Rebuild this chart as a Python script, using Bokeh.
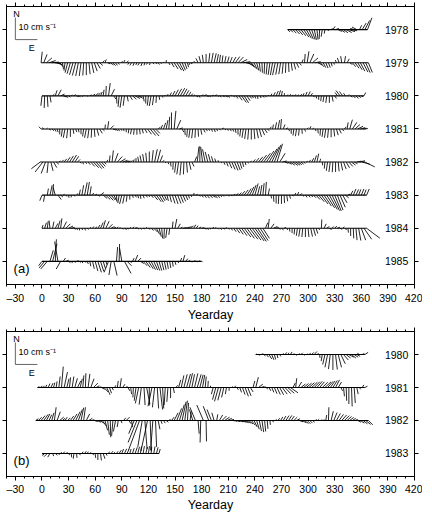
from bokeh.plotting import figure
from bokeh.models import Range1d, LinearAxis, FixedTicker, SingleIntervalTicker, ColumnDataSource
from bokeh.layouts import column
from bokeh.embed import file_html
from bokeh.resources import INLINE
from bokeh.core.properties import value

# ---------------- data (u = east, v = north, cm/s), one stick every 3 days ----------------
STEP_DAYS = 3

years_a = [1978, 1979, 1980, 1981, 1982, 1983, 1984, 1985]
years_b = [1980, 1981, 1982, 1983]

start_a1978 = 277
u_a1978 = [1.0,1.2,1.5,1.8,2.0,2.2,2.4,2.3,2.0,1.6, 1.0,0.5,-0.2,-0.5,-0.3,0.5,1.2,1.0,1.5,1.6,
           1.8,2.0,2.5,2.8,2.5,-1.8,-2.2,1.0,1.8,2.2, 2.0]
v_a1978 = [-1.0,-1.2,-1.6,-2.0,-2.4,-2.8,-3.4,-3.9,-4.3,-4.5, -4.6,-4.5,-4.2,-3.2,-1.8,-0.6,0.4,1.5,0.6,-0.8,
           -1.2,-1.4,-1.3,-0.9,-0.5,0.6,1.2,2.0,3.0,4.2, 5.4]

start_a1979 = -1
u_a1979 = [0.5,1.5,2.5,3.0,3.2,3.0,2.5,1.5,0.5,-0.5,
           -1.2,-1.5,-1.6,-1.5,-1.2,-0.8,-0.4,0.0,0.5,1.0,
           1.3,1.5,1.4,1.0,0.6,1.2,1.5,1.2,0.8,0.5,
           0.8,0.6,1.0,-0.5,-0.8,-0.6,-0.5,-0.8,-0.6,-0.4,
           -0.5,-0.3,0.5,0.8,0.6,0.3,0.2,0.1,0.5,1.2,
           1.8,2.2,2.0,1.5,1.0,0.5,-0.5,-0.8,-0.8,-1.0,
           -0.8,-0.5,0.0,0.5,0.8,1.0,0.8,0.5,0.4,0.6,
           0.8,1.0,1.5,2.0,2.5,3.0,3.2,3.0,2.5,2.0,
           1.5,1.0,0.5,0.2,-0.2,-0.5,-0.8,-1.0,-1.2,-1.0,
           -0.8,-0.5,-0.2,0.2,0.5,0.8,1.0,1.0,0.6,0.3,
           0.8,1.8,2.5,2.5,2.0,1.5,1.2,1.0,0.8,0.5,
           0.3,-0.5,-0.8,-0.5,0.5,1.0,1.2,1.5,1.8,2.0,
           2.0,2.2,2.0,1.8]
v_a1979 = [5.0,3.8,2.2,1.0,0.3,-0.4,-1.0,-1.8,-2.8,-3.6,
           -4.5,-5.0,-5.5,-5.8,-6.0,-6.0,-5.8,-5.6,-5.2,-4.6,
           -3.8,-2.6,-1.2,1.0,1.5,-0.5,-1.0,-1.3,-1.2,-0.8,
           0.6,1.2,0.8,-0.8,-1.2,-1.4,-1.0,-1.2,-1.5,-1.2,
           -0.8,-1.0,-0.6,-0.4,-0.8,-0.5,0.4,1.2,-1.0,-2.0,
           -2.8,-3.4,-3.8,-3.4,-2.8,-2.0,-1.0,-0.5,0.8,2.0,
           3.0,3.6,4.0,4.4,4.5,4.3,3.9,3.6,3.3,3.0,
           2.8,2.6,2.6,2.8,2.6,1.5,0.5,-0.8,-1.8,-2.5,
           -3.0,-3.5,-4.0,-4.5,-5.0,-5.3,-5.5,-5.6,-5.6,-5.4,
           -5.2,-5.0,-4.6,-4.2,-3.6,-3.0,-2.2,-1.2,1.5,4.0,
           5.2,4.0,2.2,0.5,-1.0,-1.8,-2.2,-2.4,-2.2,-1.6,
           -0.8,1.2,2.2,3.0,3.0,1.8,-0.8,-1.8,-2.5,-3.2,
           -3.8,-4.2,-4.5,-4.4]

start_a1980 = 0
u_a1980 = [-0.5,-0.2,0.3,0.5,0.8,0.8,1.5,1.8,1.5,1.0,
           0.8,0.5,0.8,1.0,0.6,0.3,-0.3,0.4,0.8,1.2,
           1.5,1.2,0.8,0.4,0.2,0.8,1.5,1.0,0.2,-0.5,
           -0.8,-0.6,0.5,1.2,1.8,2.2,1.8,1.0,0.5,0.0,
           -0.5,-0.8,-0.6,-0.2,0.3,0.6,0.5,0.5,0.8,1.2,
           1.5,1.8,2.0,1.8,1.5,1.2,0.8,0.6,0.8,0.5,
           0.8,1.0,0.8,0.5,0.6,0.8,0.5,0.4,0.8,1.0,
           0.6,0.3,0.5,0.8,1.5,2.2,2.0,1.5,1.0,0.6,
           0.4,0.2,0.4,0.6,0.4,0.3,0.5,0.8,1.0,0.8,
           0.4,0.2,0.5,0.6,0.4,0.5,0.6,0.8,0.6,0.8,
           1.0,0.8,0.5,0.3,0.0,-0.3,-0.5,-0.4,0.0,0.5,
           0.8,-1.0,-1.8,-1.5,-0.8,0.5,0.8,1.0,1.2,1.0,
           0.8,0.8]
v_a1980 = [-4.5,-5.5,-5.0,-3.0,0.8,2.5,2.8,0.8,-0.5,-0.8,
           -0.6,0.4,0.6,-0.4,-0.6,-0.4,0.3,-0.3,0.5,0.8,
           1.2,1.4,1.8,2.8,4.5,5.8,3.0,-1.5,-3.5,-5.0,
           -5.4,-4.5,-2.5,-1.8,-1.5,-1.2,-0.8,-1.2,-2.5,-3.5,
           -4.4,-4.6,-4.2,-3.2,-1.8,-0.8,0.3,0.8,1.5,2.2,
           2.8,3.2,3.5,3.2,2.5,1.8,1.0,0.5,-0.5,-0.8,
           0.5,0.6,-0.3,-0.6,0.3,0.5,-0.4,-0.6,-0.4,-0.5,
           -0.8,0.4,-0.6,-1.2,-2.0,-3.0,-3.2,-2.2,-1.2,-1.0,
           -1.2,-1.4,-1.0,-0.8,-0.6,0.4,1.0,1.6,2.2,2.5,
           2.2,1.2,0.6,0.8,0.5,0.7,0.5,0.8,1.2,1.8,
           2.0,1.2,-0.6,-1.2,-1.8,-2.4,-2.8,-3.2,-3.2,-2.6,
           -1.2,1.5,2.4,2.0,1.2,0.6,-0.6,-1.0,-1.2,-0.8,
           -0.4,1.5]

start_a1981 = -1
u_a1981 = [-1.0,-0.8,0.5,0.8,1.0,0.8,0.5,0.0,-0.5,-0.8,
           -0.5,0.0,0.4,0.5,0.3,0.0,-0.5,-0.8,-0.6,-0.2,
           0.3,0.8,1.2,1.0,0.2,0.5,1.5,1.5,1.0,0.6,
           0.4,0.2,0.0,-0.3,-0.5,-0.3,0.0,0.3,0.5,1.0,
           1.8,2.5,2.8,2.0,1.0,0.8,1.0,0.8,0.4,0.0,
           0.8,1.8,1.5,0.8,0.2,-0.3,-0.6,-0.5,-0.2,0.2,
           0.5,0.8,0.6,0.4,0.5,0.6,0.4,0.6,0.8,0.6,
           0.5,0.6,0.5,0.3,0.0,-0.4,-0.6,-0.6,-0.4,0.0,
           0.4,0.8,1.0,1.2,1.2,1.0,0.6,0.4,0.6,0.8,
           0.4,0.8,1.0,0.5,0.0,-0.4,-0.5,-0.3,0.2,0.5,
           0.6,0.5,0.6,0.4,0.2,-0.2,-0.5,-0.6,-0.4,0.0,
           0.4,0.8,1.0,1.0,0.8,0.5,1.2,2.0,2.2,2.4,
           2.2,1.6,1.0]
v_a1981 = [1.0,0.6,0.4,-0.5,-0.8,-1.2,-1.5,-2.5,-3.5,-4.0,
           -4.2,-3.6,-2.2,-1.4,-1.5,-2.4,-3.4,-4.0,-4.2,-4.0,
           -3.6,-3.0,-2.0,-0.8,2.0,3.5,1.5,-0.5,-0.8,-1.0,
           -0.8,-1.0,-1.5,-2.0,-2.4,-2.6,-2.6,-2.4,-2.0,-1.8,
           -2.4,-3.0,-3.2,-2.0,0.8,1.8,2.8,4.0,5.5,7.5,
           8.2,4.0,0.5,-1.5,-2.8,-3.6,-4.0,-4.2,-4.0,-3.5,
           -2.6,-1.6,-1.0,-0.8,-1.2,-1.4,-1.0,-0.6,0.4,-0.5,
           -0.8,-1.0,-1.2,-1.8,-2.6,-3.4,-4.0,-4.5,-4.8,-4.8,
           -4.6,-4.2,-3.6,-2.8,-1.8,-0.8,1.0,2.0,3.0,4.0,
           4.5,2.0,0.5,-1.0,-2.2,-3.0,-3.3,-3.0,-2.2,-1.2,
           0.6,1.2,0.4,-1.0,-2.0,-3.0,-3.6,-4.0,-4.0,-3.8,
           -3.4,-2.8,-2.0,-1.0,1.0,3.0,4.2,3.0,2.0,1.2,
           0.6,0.3,0.2]

start_a1982 = -2
u_a1982 = [-4.0,-3.5,-2.0,-0.5,1.0,1.5,1.2,0.8,1.0,1.2,
           1.5,1.8,2.0,1.8,1.2,0.5,0.3,0.6,1.0,1.8,
           2.4,2.6,2.4,1.8,1.0,0.5,0.3,0.6,1.5,2.2,
           2.5,2.2,1.8,1.2,0.8,0.4,0.0,-0.4,-0.6,-0.6,
           -0.4,0.0,0.6,1.2,1.5,1.2,0.6,0.3,0.4,0.2,
           -0.2,-0.6,-0.8,-0.6,-0.2,0.4,0.8,1.0,1.0,0.8,
           0.0,-0.8,-1.2,-1.2,-1.0,-0.8,-0.5,-0.2,0.2,0.5,
           0.8,1.2,1.5,1.6,1.4,1.0,0.6,0.4,0.3,0.5,
           1.0,1.5,2.0,2.5,3.0,3.4,3.6,3.4,3.0,2.5,
           2.5,2.0,1.5,1.8,2.0,2.2,2.0,1.6,1.2,0.8,
           0.6,0.8,1.0,1.0,0.8,0.5,0.2,-0.3,-0.6,-0.6,
           -0.3,0.0,0.4,0.8,1.2,1.5,1.8,1.8,1.5,2.0,
           2.5,3.5,4.5]
v_a1982 = [-3.0,-4.5,-5.2,-5.0,-4.0,-2.5,-1.0,0.5,1.0,1.5,
           2.2,2.8,3.2,2.6,1.2,-0.6,-1.0,-0.8,-1.2,-2.0,
           -2.6,-3.0,-2.8,-2.0,-1.0,1.0,3.0,5.3,4.0,2.5,
           1.5,0.8,0.5,0.4,0.8,1.2,1.8,2.4,3.0,3.6,
           4.2,4.8,5.4,5.8,5.6,3.0,0.8,-0.5,-1.0,-2.0,
           -3.5,-4.8,-5.6,-6.0,-5.6,-4.8,-3.5,-2.0,2.5,7.0,
           7.2,6.8,5.8,4.6,3.6,2.6,1.6,0.8,-0.5,-1.2,
           -2.0,-2.8,-3.4,-3.8,-3.6,-3.0,-2.2,-1.4,-0.6,0.6,
           1.2,1.8,2.4,3.2,4.0,5.0,6.0,7.0,7.8,8.3,
           4.0,0.5,-0.6,-1.0,-1.4,-1.5,-1.4,-1.2,-1.0,-0.6,
           0.4,1.0,1.8,3.0,3.8,1.5,-1.5,-3.0,-4.0,-4.5,
           -4.6,-4.5,-4.2,-3.8,-3.2,-2.6,-2.0,-1.4,-0.8,0.4,
           0.6,-1.0,-2.2]

start_a1983 = 0
u_a1983 = [-1.0,-0.5,0.5,1.0,0.4,-1.0,1.5,1.0,0.6,0.4,
           0.2,0.0,0.4,0.6,0.5,0.8,1.2,1.0,0.6,0.5,
           0.8,1.0,1.5,1.8,2.0,2.2,1.8,1.2,0.2,-0.6,
           -1.0,-0.8,-0.4,0.0,0.4,0.6,0.4,0.2,0.5,0.8,
           0.6,1.0,1.8,2.2,2.0,1.5,1.0,0.6,0.8,1.2,
           1.4,1.5,1.4,1.2,1.0,0.6,0.3,0.2,0.5,0.6,
           0.8,1.0,1.2,1.4,1.5,1.2,1.0,0.8,0.6,0.4,
           0.4,0.6,0.8,1.0,1.2,1.5,1.8,2.0,2.0,1.8,
           1.5,1.0,0.8,0.6,0.4,0.6,0.4,0.2,0.0,-0.2,
           0.0,0.2,0.4,0.5,0.6,0.5,0.6,0.8,0.6,0.8,
           1.0,1.0,1.2,1.8,2.5,3.0,3.4,3.6,3.6,3.4,
           3.0,2.6,2.4,2.0,1.5,1.0,1.0,1.2,1.2,1.0,
           1.2,1.0,1.2]
v_a1983 = [-2.5,-3.0,3.0,4.5,5.0,3.5,-2.0,-0.8,0.4,-0.6,
           -1.2,-1.0,-0.6,0.8,2.5,4.5,5.8,6.0,4.0,1.0,
           0.5,-0.5,1.2,-1.5,-2.0,-2.4,-2.2,-2.4,-3.0,-3.6,
           -4.0,-3.8,-3.0,-2.0,-1.2,-1.0,-1.4,-1.7,-1.4,-1.0,
           -0.8,-1.2,-2.2,-3.0,-3.2,-2.6,-2.2,-2.6,-3.2,-3.8,
           -4.0,-3.8,-3.4,-2.8,-2.2,-1.5,-0.8,1.0,0.6,-0.6,
           -1.0,-1.2,-1.4,-1.2,-1.0,-1.4,-1.2,-0.8,-0.6,-0.4,
           -0.6,-0.3,0.4,0.8,1.2,1.8,2.4,3.0,3.8,4.6,
           5.3,4.0,4.6,5.4,6.0,3.0,-1.5,-3.0,-3.8,-4.0,
           -4.0,-3.6,-2.8,-1.6,-0.4,1.0,1.4,0.8,-0.6,-1.0,
           -1.0,-0.8,-1.2,-2.0,-3.0,-4.0,-5.0,-5.8,-6.5,-7.0,
           -7.2,-6.8,-5.5,-3.5,-1.2,0.5,2.0,2.8,2.6,2.6,
           2.8,2.5,2.8]

start_a1984 = 0
u_a1984 = [0.5,0.8,0.4,-0.4,0.6,1.2,1.0,0.6,1.5,2.0,
           2.0,1.5,0.8,0.5,0.2,0.3,0.5,0.6,0.5,0.6,
           0.8,1.0,1.2,1.0,1.5,1.8,1.5,1.0,0.8,0.6,
           0.8,1.0,0.8,0.6,0.8,1.0,0.6,0.5,0.8,0.6,
           0.8,1.2,1.8,1.5,1.0,0.4,-0.2,-0.6,-0.4,0.3,
           0.8,1.2,1.0,1.5,1.8,1.5,1.2,1.0,0.8,1.0,
           1.2,1.0,0.8,0.6,0.8,0.6,0.5,0.8,1.0,0.6,
           0.5,0.8,1.2,1.6,2.0,2.5,3.0,3.4,3.8,4.0,
           4.2,4.0,3.6,3.0,1.0,0.5,1.5,1.8,1.2,0.8,
           1.0,0.8,0.4,0.2,0.0,-0.3,-0.5,-0.6,-0.4,0.0,
           0.4,0.8,1.0,0.8,0.4,0.2,1.0,1.2,1.0,0.8,
           1.0,1.2,1.0,0.8,0.5,0.2,0.0,0.2,0.5,1.0,
           2.0,3.5,6.0]
v_a1984 = [1.5,2.5,3.2,3.5,3.0,2.2,3.5,4.5,3.0,2.0,
           1.0,0.4,-0.5,-0.8,-1.0,-0.8,-1.0,-0.6,0.5,0.8,
           0.6,1.5,2.6,3.6,3.2,1.8,0.8,0.4,0.6,0.3,
           -0.4,-0.6,-0.3,0.4,0.6,0.3,-0.4,-0.6,-0.3,0.4,
           -0.5,-1.0,-1.8,-2.8,-3.8,-4.6,-4.8,-4.4,-3.0,3.0,
           4.2,2.0,0.5,0.3,0.5,0.8,1.2,1.6,1.2,0.6,
           0.3,-0.4,-0.6,-0.4,0.4,0.3,-0.5,-0.6,-0.4,0.3,
           -0.6,-1.0,-1.6,-2.2,-2.8,-3.4,-4.0,-4.6,-5.0,-5.4,
           -5.8,-6.0,-5.6,-4.6,2.5,4.2,2.0,0.8,0.4,-0.5,
           -0.8,0.4,-0.8,-1.5,-2.2,-2.8,-3.4,-3.8,-4.0,-4.0,
           -4.0,-3.8,-3.4,-2.4,-0.8,4.0,2.0,0.8,-0.6,0.8,
           1.0,0.5,-0.5,0.6,-0.8,-2.0,-3.5,-4.6,-5.4,-5.6,
           -5.4,-5.0,-4.5]

start_a1985 = 0
u_a1985 = [-1.5,-2.5,-3.0,1.5,2.0,0.5,-1.5,-2.0,1.0,1.2,
           0.8,0.6,0.8,1.0,0.6,0.4,0.6,0.5,0.4,0.8,
           1.2,1.6,1.5,1.0,0.5,-2.0,-1.0,1.5,0.5,0.2,
           -1.0,3.0,2.0,1.0,0.8,1.2,1.5,1.5,1.8,2.0,
           2.2,2.0,1.8,1.5,1.2,1.0,0.8,0.6,0.5,0.4,
           0.4,0.5,0.6,0.8,1.0,0.8,0.6,0.8,0.6,0.5,
           0.4]
v_a1985 = [-2.0,-3.0,-3.5,5.0,8.0,10.0,9.0,-3.5,1.5,0.5,
           -0.6,-0.8,-0.5,0.3,-0.6,-0.8,-0.6,-1.2,-2.2,-3.4,
           -4.4,-5.0,-4.6,-3.2,-1.5,-5.0,-6.2,-6.5,6.5,7.9,
           6.0,-5.5,-2.0,-0.5,1.5,2.9,1.5,-1.0,-2.0,-2.8,
           -3.4,-3.8,-4.0,-4.2,-4.2,-4.0,-3.8,-3.4,-3.0,-2.4,
           -1.6,-0.8,1.5,2.8,1.2,0.4,-0.3,0.3,-0.2,0.3,
           -0.2]

start_b1980 = 241
u_b1980 = [0.6,0.8,1.0,0.8,1.0,1.2,1.0,0.6,0.4,0.5,
           0.6,0.8,0.6,0.8,0.6,0.5,0.6,0.8,0.6,0.5,
           0.8,1.0,1.2,0.8,0.2,-0.5,-1.0,-1.2,-0.8,0.0,
           0.8,1.5,2.0,2.2,2.0,2.2,2.0,1.8,1.5,-1.0,
           1.0,1.5]
v_b1980 = [0.3,-0.3,0.4,-0.6,-1.2,-2.0,-2.4,-2.2,-1.6,-0.8,
           0.6,1.0,0.8,1.2,0.6,-0.4,0.5,0.8,-0.3,0.4,
           0.6,1.0,1.4,0.6,-1.5,-3.0,-4.5,-5.8,-6.6,-7.0,
           -6.8,-5.8,-4.2,-2.5,-1.6,-1.2,-1.6,-1.2,-0.8,0.6,
           0.5,1.0]

start_b1981 = -5
u_b1981 = [0.8,1.0,0.8,0.6,0.8,1.0,0.6,0.4,0.6,0.8,
           1.5,1.0,0.5,0.8,1.2,1.5,1.0,0.5,0.2,0.8,
           1.5,2.0,1.5,1.2,1.5,1.8,1.5,1.0,0.6,0.5,
           0.4,0.6,1.0,1.0,0.8,0.4,-0.2,-0.8,-1.5,-1.0,
           0.5,1.5,0.0,-1.8,-1.0,0.6,1.2,0.5,-0.5,-0.5,
           0.0,0.5,0.8,1.0,1.2,1.5,1.8,1.5,1.2,1.5,
           1.8,1.5,1.0,0.5,0.2,0.0,-0.8,-1.5,-1.8,-1.5,
           -1.0,-0.5,0.0,0.4,0.6,0.5,0.8,1.2,1.5,1.5,
           1.2,0.8,1.2,2.0,1.5,1.0,0.6,0.8,1.0,1.2,
           1.5,1.8,2.2,2.6,3.0,3.5,1.0,0.5,1.5,2.0,
           2.2,2.4,2.5,2.6,2.5,2.4,2.2,2.5,2.8,2.5,
           2.2,2.0,1.8,1.5,0.8,0.4,0.2,0.0,0.3,0.5,
           0.6,0.5,0.8,1.2]
v_b1981 = [0.4,0.6,0.8,1.2,1.8,2.0,2.2,2.8,5.0,9.5,
           7.0,4.0,4.6,5.0,4.2,3.0,4.0,5.5,6.5,6.2,
           4.0,2.0,0.8,0.3,-0.8,-2.0,-3.3,-2.6,-1.2,1.0,
           3.0,4.2,1.5,0.4,-1.5,-3.0,-4.5,-6.0,-7.2,-7.8,
           -8.0,-7.6,-8.2,-8.5,-9.0,-9.5,-10.0,-9.5,-8.0,-6.5,
           -4.8,-2.5,1.0,3.5,5.5,6.0,6.2,6.5,6.0,6.4,
           6.0,5.8,5.7,5.0,3.0,0.8,-3.0,-5.5,-6.3,-5.8,
           -4.5,-3.0,-1.5,0.5,0.8,-1.0,-2.2,-3.2,-4.0,-3.8,
           -2.0,3.0,4.7,1.5,0.5,0.3,-0.8,-1.5,-2.2,-2.8,
           -3.2,-3.3,-3.0,-2.8,-2.6,-2.4,2.0,4.2,2.5,1.6,
           1.8,2.0,2.2,2.4,2.6,2.8,2.6,2.4,2.6,2.8,
           3.0,3.2,3.5,2.5,-1.5,-4.0,-6.0,-7.5,-8.6,-7.0,
           -3.0,-0.8,1.2,0.6]

start_b1982 = -7
u_b1982 = [1.2,1.5,1.8,2.0,1.6,1.2,1.0,0.8,1.5,1.8,
           1.2,1.0,1.2,1.5,1.8,2.0,1.8,1.2,0.8,1.5,
           1.5,1.2,1.5,1.8,2.0,1.8,1.2,0.8,0.2,-0.6,
           -1.0,-0.5,0.5,1.0,1.5,1.0,0.4,-2.5,-4.0,-5.0,
           -2.0,1.0,-3.0,0.5,-1.0,0.5,0.8,0.6,0.8,1.0,
           0.8,1.2,1.8,2.2,2.2,1.8,1.2,0.5,0.5,-1.5,
           -2.5,0.5,-0.3,-3.0,0.2,-2.5,-2.0,-1.0,0.5,1.5,
           2.0,2.2,2.0,1.8,2.0,2.2,2.5,2.6,2.4,2.2,
           2.0,1.8,1.5,1.2,1.0,0.8,0.5,0.3,0.2,0.4,
           0.6,0.8,1.0,1.2,1.4,1.5,1.4,1.5,1.6,1.8,
           2.0,1.8,1.5,1.2,1.0,0.8,0.6,0.8,0.6,0.4,
           0.2,1.0,1.5,1.8,2.0,2.2,2.2,2.0,1.8,1.5,
           1.2,1.5,1.8,2.0,2.2,2.0]
v_b1982 = [0.8,1.5,2.2,2.8,3.0,2.6,3.5,6.0,4.0,1.5,
           1.0,1.5,1.2,2.0,3.0,4.0,5.0,5.8,6.0,3.0,
           1.0,0.4,-0.5,-0.8,-1.2,-2.5,-4.5,-6.5,-7.6,-7.0,
           -5.0,-3.0,-1.2,1.2,1.5,-1.5,-3.0,-6.0,-10.0,-13.5,
           -12.0,-13.0,-14.0,-14.0,-13.5,-12.0,-4.0,-1.5,-1.2,-0.8,
           0.5,1.5,3.5,5.5,7.2,8.5,9.0,8.0,4.0,5.0,
           6.0,-6.0,-10.0,7.0,-9.5,6.5,5.0,3.5,2.8,2.5,
           2.0,1.5,1.0,0.5,-0.3,-0.5,-0.6,-0.8,-1.0,-1.2,
           -1.6,-2.2,-3.0,-4.0,-4.8,-5.3,-5.0,-3.8,-2.0,-0.8,
           0.5,1.0,1.6,2.0,2.2,2.3,2.0,1.5,0.8,-0.6,
           -1.0,-1.4,-1.5,-1.2,-0.8,0.4,0.6,0.3,0.5,2.5,
           6.0,4.2,3.6,3.2,2.8,2.5,2.2,1.8,1.4,1.0,
           0.5,-0.8,-1.2,-1.5,-1.8,-2.0]

start_b1983 = 0
u_b1983 = [0.8,-1.0,-1.5,-1.0,0.5,1.0,0.8,0.5,0.6,0.8,
           0.5,0.2,-0.3,0.2,0.5,0.6,0.8,0.5,0.6,0.5,
           0.2,0.0,0.4,0.8,0.6,0.5,0.8,0.6,0.8,1.0,
           0.8,1.0,0.8,0.6,0.8,1.0,0.8,0.5,0.6,0.8,
           0.5,0.3,0.6,0.8,0.5]
v_b1983 = [-0.6,-1.0,-1.5,-1.7,-1.2,-0.8,-0.5,0.6,0.8,0.4,
           -0.8,-1.8,-2.4,-2.0,-0.8,0.8,1.0,0.8,0.5,-0.8,
           -2.0,-3.0,-3.2,-2.4,-1.0,0.8,1.0,0.6,1.0,1.5,
           2.0,2.1,1.8,2.0,2.4,2.8,3.0,3.2,3.3,3.0,
           3.3,3.0,3.2,2.8,2.0]

x_tick_interval = 30
scale_bar_cms = 10
scale_label = "10 cm s\u207b\u00b9"

# ---------------- geometry / style ----------------
FONT = "Liberation Sans"
XMIN, XMAX = -40, 420
FRAME_W = 408
PX_PER_CMS = 2.2          # 10 cm/s drawn as 22 px
PAD = 0.7                 # rows of empty space above first / below last series


def style_axis(ax, show_labels, label_standoff=3):
    ax.axis_line_color = "black"
    ax.axis_line_width = 1
    ax.major_tick_line_color = "black"
    ax.minor_tick_line_color = "black"
    ax.major_tick_in = 0
    ax.major_tick_out = 4
    ax.minor_tick_in = 0
    ax.minor_tick_out = 2
    if show_labels:
        ax.major_label_text_font = FONT
        ax.major_label_text_font_size = "10.5px"
        ax.major_label_text_color = "black"
        ax.major_label_standoff = label_standoff
    else:
        ax.major_label_text_color = None
        ax.major_label_text_font_size = "1px"
        ax.major_label_standoff = 0


def make_panel(rows, years, frame_h, tag, top_border, bottom_border, label_standoff, title_standoff):
    ppd = FRAME_W / (XMAX - XMIN)
    ppr = frame_h / (len(years) - 1 + 2 * PAD)
    p = figure(frame_width=FRAME_W, frame_height=frame_h,
               x_range=Range1d(XMIN, XMAX),
               y_range=Range1d(years[-1] + PAD, years[0] - PAD),
               output_backend="svg", toolbar_location=None,
               min_border_left=6, min_border_right=8,
               min_border_top=top_border, min_border_bottom=bottom_border)
    p.grid.visible = False
    p.outline_line_color = "black"
    p.background_fill_color = "white"
    p.border_fill_color = "white"

    # sticks
    x0, y0, x1, y1 = [], [], [], []
    bx0, bx1, by = [], [], []
    for year, start, u, v in rows:
        n = min(len(u), len(v))
        days = [start + STEP_DAYS * i for i in range(n)]
        for d, ui, vi in zip(days, u, v):
            x0.append(d)
            y0.append(year)
            x1.append(d + ui * PX_PER_CMS / ppd)
            y1.append(year - vi * PX_PER_CMS / ppr)
        bx0.append(days[0])
        bx1.append(days[-1])
        by.append(year)
    src = ColumnDataSource(dict(x0=x0, y0=y0, x1=x1, y1=y1))
    p.segment(x0="x0", y0="y0", x1="x1", y1="y1", source=src,
              line_color="black", line_width=1.0, line_alpha=0.85)
    p.segment(x0=bx0, y0=by, x1=bx1, y1=by, line_color="black", line_width=1.1)

    # year labels inside the frame
    p.text(x=[413] * len(years), y=years, text=[str(y) for y in years],
           text_font=value(FONT), text_font_size="10.5px", text_color="black",
           text_align="right", text_baseline="middle")

    # scale bar (10 cm/s)
    r0 = years[0]
    ox, oy = -30, r0 + 0.30
    p.segment(x0=[ox, ox], y0=[oy, oy],
              x1=[ox, ox + scale_bar_cms * PX_PER_CMS / ppd],
              y1=[oy - scale_bar_cms * PX_PER_CMS / ppr, oy],
              line_color="#555555", line_width=0.9)
    p.text(x=[-32.5], y=[r0 - 0.47], text=["N"], text_font=value(FONT),
           text_font_size="9px", text_align="left", text_baseline="middle")
    p.text(x=[-26.5], y=[r0 - 0.09], text=[scale_label], text_font=value(FONT),
           text_font_size="9px", text_align="left", text_baseline="middle")
    p.text(x=[-11.5], y=[r0 + 0.55], text=["E"], text_font=value(FONT),
           text_font_size="9px", text_align="center", text_baseline="middle")

    # panel tag
    p.text(x=[-32], y=[years[-1] + 0.22], text=[tag], text_font=value(FONT),
           text_font_size="13px", text_align="left", text_baseline="middle")

    # axes
    xb = p.xaxis[0]
    xb.ticker = SingleIntervalTicker(interval=x_tick_interval, num_minor_ticks=3)
    style_axis(xb, True, label_standoff)
    xb.major_label_overrides = {-30: "\u201330"}
    xb.axis_label = "Yearday"
    xb.axis_label_text_font = FONT
    xb.axis_label_text_font_size = "12.5px"
    xb.axis_label_text_font_style = "normal"
    xb.axis_label_text_color = "black"
    xb.axis_label_standoff = title_standoff

    yl = p.yaxis[0]
    yl.ticker = FixedTicker(ticks=years, minor_ticks=[])
    style_axis(yl, False)

    top = LinearAxis(ticker=SingleIntervalTicker(interval=x_tick_interval, num_minor_ticks=3))
    style_axis(top, False)
    p.add_layout(top, "above")

    right = LinearAxis(ticker=FixedTicker(ticks=years, minor_ticks=[]))
    style_axis(right, False)
    p.add_layout(right, "right")
    return p


rows_a = [(1978, start_a1978, u_a1978, v_a1978),
          (1979, start_a1979, u_a1979, v_a1979),
          (1980, start_a1980, u_a1980, v_a1980),
          (1981, start_a1981, u_a1981, v_a1981),
          (1982, start_a1982, u_a1982, v_a1982),
          (1983, start_a1983, u_a1983, v_a1983),
          (1984, start_a1984, u_a1984, v_a1984),
          (1985, start_a1985, u_a1985, v_a1985)]
rows_b = [(1980, start_b1980, u_b1980, v_b1980),
          (1981, start_b1981, u_b1981, v_b1981),
          (1982, start_b1982, u_b1982, v_b1982),
          (1983, start_b1983, u_b1983, v_b1983)]

p1 = make_panel(rows_a, years_a, 278, "(a)", 6, 35, 3, 1)
p2 = make_panel(rows_b, years_b, 145, "(b)", 7, 28, 2, 0)

layout = column(p1, p2, spacing=0)
open("out.html", "w").write(file_html(layout, INLINE))
